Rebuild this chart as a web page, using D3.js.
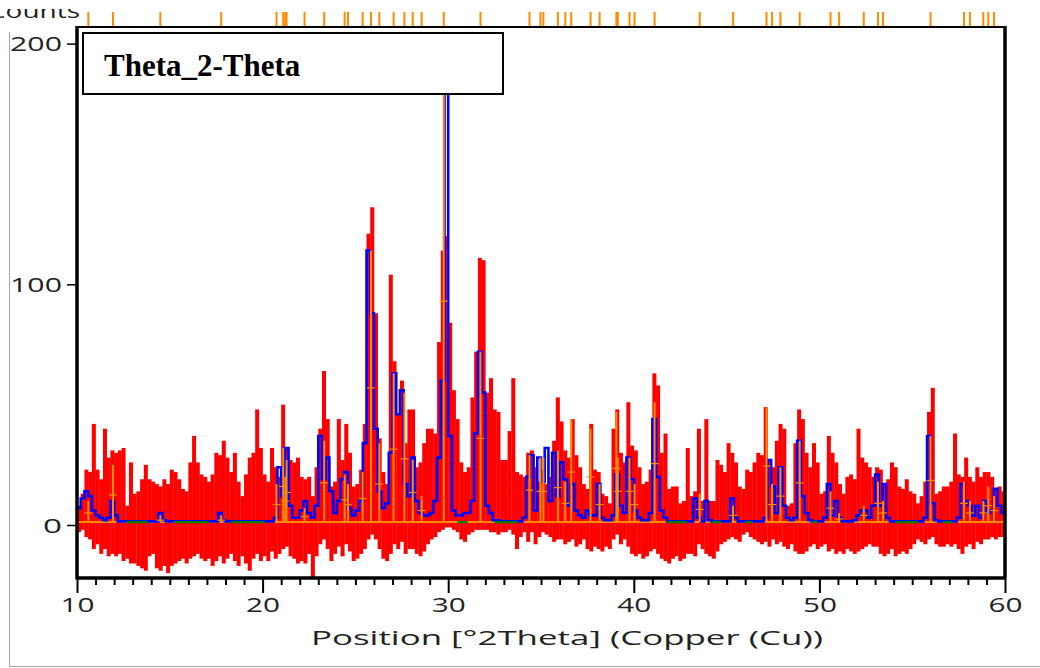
<!DOCTYPE html>
<html>
<head>
<meta charset="utf-8">
<script src="https://cdn.jsdelivr.net/npm/d3@7"></script>
<style>
  html, body { margin: 0; padding: 0; background: #fff; }
  svg { display: block; }
</style>
</head>
<body>
<svg id="chart" width="1040" height="668"></svg>
<script>
// Diffraction scan, Cu K-alpha, 10-60 deg 2Theta, binned at 0.2 deg.
const binStart = 10, binStep = 0.2;

// Upper and lower envelope of the measured counts in each bin (five bins per degree)
const obsHigh = [
  8, 13, 23, 22, 42,   23, 19, 40, 28, 31,   30, 31, 32, 8, 26,    13, 14, 19, 25, 19,
  18, 17, 16, 19, 17,  23, 22, 19, 15, 14,   26, 37, 26, 21, 20,   18, 21, 30, 29, 35,
  28, 22, 30, 18, 12,  21, 28, 30, 48, 32,   21, 18, 32, 24, 20,   50, 32, 27, 26, 28,
  20, 19, 20, 12, 24,  40, 64, 44, 16, 18,   44, 27, 42, 30, 16,   17, 23, 42, 121, 132,
  88, 36, 22, 17, 104, 68, 46, 60, 34, 48,   48, 24, 26, 34, 40,   40, 38, 76, 114, 120,
  84, 56, 44, 26, 22,  24, 53, 72, 111, 110, 55, 61, 48, 47, 27,   27, 39, 61, 22, 21,
  20, 30, 31, 24, 18,  23, 17, 20, 35, 53,   43, 31, 28, 44, 29,   24, 17, 15, 42, 23,
  22, 13, 12, 9, 40,   48, 30, 26, 51, 33,   31, 24, 17, 18, 23,   63, 58, 30, 38, 15,
  16, 16, 9, 10, 32,   12, 14, 40, 10, 44,   10, 10, 27, 25, 22,   34, 30, 26, 16, 15,
  23, 22, 26, 30, 29,  49, 27, 24, 35, 42,   40, 8, 9, 34, 48,     44, 30, 24, 34, 26,
  13, 14, 37, 30, 26,  17, 13, 20, 21, 19,   40, 28, 26, 24, 20,   24, 23, 17, 19, 26,
  24, 16, 15, 19, 14,  13, 9, 12, 18, 47,    57, 13, 14, 16, 16,   18, 38, 21, 20, 28,
  20, 18, 24, 20, 22,  22, 20, 15, 16, 14
];
const obsLow = [
  -3, -2, -5, -6, -10,     -8, -12, -10, -13, -12,  -13, -12, -15, -14, -16,  -16, -17, -18, -19, -13,
  -12, -18, -19, -17, -20, -17, -16, -15, -14, -16, -14, -13, -12, -14, -15,  -14, -17, -15, -13, -16,
  -14, -12, -15, -17, -13, -16, -19, -14, -12, -15, -13, -15, -11, -14, -12,  -10, -9, -13, -14, -16,
  -15, -16, -12, -22, -13, -8, -6, -10, -15, -12,   -9, -13, -8, -11, -15,    -14, -12, -10, -6, -4,
  -6, -10, -14, -15, -12,  -8, -10, -7, -12, -10,   -10, -12, -13, -11, -8,   -6, -5, -3, -2, -1,
  -1, -2, -3, -6, -7,      -4, -3, -2, -2, -2,      -2, -3, -3, -4, -3,       -3, -2, -4, -10, -5,
  -3, -7, -3, -8, -5,      -3, -4, -5, -7, -6,      -6, -8, -7, -6, -9,       -8, -6, -10, -11, -9,
  -10, -11, -9, -10, -6,   -4, -8, -6, -9, -12,     -13, -12, -14, -13, -11,  -10, -12, -14, -15, -16,
  -14, -13, -15, -14, -12, -12, -13, -8, -10, -12,  -13, -14, -11, -8, -7,    -6, -5, -6, -7, -4,
  -3, -5, -6, -7, -8,      -7, -9, -6, -8, -7,      -9, -10, -8, -11, -12,    -12, -11, -9, -8, -10,
  -9, -8, -11, -10, -12,   -11, -12, -10, -11, -12, -11, -10, -9, -8, -9,    -9, -12, -13, -12, -10,
  -13, -12, -11, -12, -10, -8, -6, -7, -8, -6,      -5, -8, -9, -9, -8,       -9, -8, -10, -12, -9,
  -8, -10, -7, -8, -6,     -6, -5, -6, -5, -5
];

// Calculated profile in the same bins
const calcProfile = [
  7, 11, 14, 12, 6,       4, 3, 2, 3, 10,          4, 1.5, 1.5, 1.5, 1.5,    1.5, 1.5, 1.5, 1.5, 1.5,
  1.5, 1.5, 5, 2, 1.5,    1.5, 1.5, 1.5, 1.5, 1.5, 1.5, 1.5, 1.5, 1.5, 1.5,  1.5, 1.5, 1.5, 5, 2,
  1.5, 1.5, 1.5, 1.5, 1.5, 1.5, 1.5, 1.5, 1.5, 1.5, 1.5, 1.5, 1.5, 3, 24,   12, 32, 8, 3, 3,
  6, 10, 5, 3, 8,         37, 19, 28, 14, 5,       10, 19, 22, 7, 4,         6, 10, 34, 114, 88,
  40, 14, 7, 9, 30,       63, 46, 56, 17, 12,      28, 10, 5, 4, 4,          5, 10, 28, 60, 190,
  37, 6, 4, 4, 5,         5, 10, 38, 72, 55,       8, 5, 2, 2, 1.5,          1.5, 1.5, 1.5, 1.5, 1.5,
  3, 20, 29, 6, 28,       18, 32, 10, 30, 12,      26, 19, 8, 17, 6,         4, 3, 6, 4, 4,
  17, 3, 2, 2, 4,         21, 8, 5, 28, 19,        6, 3, 2, 2, 5,            44, 20, 6, 3, 1.5,
  1.5, 1.5, 1.5, 1.5, 1.5, 1.5, 11, 3, 1.5, 10,    2, 1.5, 1.5, 1.5, 1.5,    1.5, 11, 3, 1.5, 1.5,
  1.5, 1.5, 1.5, 1.5, 1.5, 3, 27, 16, 5, 24,       8, 3, 2, 3, 35,           12, 5, 2, 1.5, 1.5,
  1.5, 3, 17, 4, 10,      3, 1.5, 1.5, 1.5, 2,     4, 6, 6, 3, 8,            21, 8, 17, 3, 1.5,
  1.5, 1.5, 1.5, 1.5, 1.5, 1.5, 1.5, 1.5, 3, 37,   9, 2, 1.5, 1.5, 1.5,      1.5, 1.5, 3, 17, 10,
  8, 4, 8, 3, 10,         5, 6, 15, 8, 5
];

// Reference pattern: line positions (deg 2Theta) and intensities (counts)
const refPos = [
  10.61, 11.94, 14.49, 17.77, 20.75, 21.11, 21.22, 21.29, 22.26, 23.32,
  24.42, 24.60, 25.39, 25.84, 26.29, 27.06, 27.64, 28.09, 28.57, 29.76,
  31.74, 34.38, 34.97, 35.13, 35.91, 36.31, 36.63, 37.67, 38.16, 39.06,
  39.14, 39.77, 40.04, 41.12, 43.55, 45.35, 47.15, 47.45, 47.90, 48.94,
  50.60, 51.06, 52.39, 53.16, 53.43, 55.99, 57.79, 58.11, 58.83, 59.10, 59.41
];
const refHeight = [
  10, 25, 4, 4, 17, 32, 20, 27, 7, 35,
  21, 17, 22, 114, 34, 63, 55, 27, 12, 186,
  72, 29, 28, 28, 31, 18, 44, 40, 17, 47,
  28, 28, 17, 51, 13, 8, 49, 17, 24, 35,
  14, 5, 8, 18, 10, 37, 18, 10, 10, 16, 12
];

// Stretches where only the background is drawn (deg 2Theta)
const backgroundStart = [12.65, 15.2, 18.3, 30.5, 32.5, 41.8, 44.2, 46.0, 49.6, 54.1, 56.65];
const backgroundEnd   = [13.8, 17.1, 20.1, 31.05, 33.75, 42.85, 44.7, 46.4, 49.9, 55.3, 57.15];

const xTicksMajor = [10, 20, 30, 40, 50, 60];
const yTicks = [0, 100, 200];
const xTitle = "Position [°2Theta] (Copper (Cu))";
const yTitle = "Counts";
const boxTitle = "Theta_2-Theta";
const baseLevel = 1.2;

const svg = d3.select("#chart");
const frame = { left: 77, right: 1005, top: 27, bottom: 578 };

const x = d3.scaleLinear().domain([10, 60]).range([frame.left, frame.right]);
const y = d3.scaleLinear().domain([0, 100]).range([525, 284.3]);

const sansFont = "'Open Sans', 'Noto Sans', sans-serif";

// panel border lines
svg.append("line").attr("x1", 9.5).attr("x2", 9.5).attr("y1", 32).attr("y2", 667)
  .attr("stroke", "#a8a8a8").attr("stroke-width", 1);
svg.append("line").attr("x1", 9).attr("x2", 1040).attr("y1", 666.5).attr("y2", 666.5)
  .attr("stroke", "#a8a8a8").attr("stroke-width", 1);

svg.append("clipPath").attr("id", "plotClip")
  .append("rect").attr("x", frame.left).attr("y", frame.top)
  .attr("width", frame.right - frame.left).attr("height", frame.bottom - frame.top);

const plot = svg.append("g").attr("clip-path", "url(#plotClip)");

const bins = obsHigh.map((h, i) => ({
  start: binStart + i * binStep,
  hi: h,
  lo: obsLow[i],
  calc: calcProfile[i]
}));

// measured counts
plot.append("g").selectAll("rect").data(bins).join("rect")
  .attr("x", d => x(d.start))
  .attr("width", d => x(d.start + binStep) - x(d.start) + 0.3)
  .attr("y", d => y(d.hi))
  .attr("height", d => y(d.lo) - y(d.hi))
  .attr("fill", "#ff0000");

// reference baseline
plot.append("line")
  .attr("x1", x(10)).attr("x2", x(60))
  .attr("y1", y(baseLevel)).attr("y2", y(baseLevel))
  .attr("stroke", "#ff8c00").attr("stroke-width", 2);

// calculated profile
const stepPts = bins.map(d => [d.start, d.calc]);
stepPts.push([60, calcProfile[calcProfile.length - 1]]);
plot.append("path")
  .datum(stepPts)
  .attr("fill", "none")
  .attr("stroke", "#0000ff")
  .attr("stroke-width", 2.6)
  .attr("d", d3.line().x(d => x(d[0])).y(d => y(d[1])).curve(d3.curveStepAfter));

// background-only stretches
plot.append("g").selectAll("line").data(backgroundStart).join("line")
  .attr("x1", d => x(d)).attr("x2", (d, i) => x(backgroundEnd[i]))
  .attr("y1", y(baseLevel)).attr("y2", y(baseLevel))
  .attr("stroke", "#008000").attr("stroke-width", 2.4);

// reference sticks with half-height markers
const refs = refPos.map((p, i) => ({ pos: p, h: refHeight[i] }));
plot.append("g").selectAll("line").data(refs).join("line")
  .attr("x1", d => x(d.pos)).attr("x2", d => x(d.pos))
  .attr("y1", y(baseLevel)).attr("y2", d => y(d.h))
  .attr("stroke", "#ff8c00").attr("stroke-width", 2);
plot.append("g").selectAll("line").data(refs).join("line")
  .attr("x1", d => x(d.pos) - 4).attr("x2", d => x(d.pos) + 4)
  .attr("y1", d => y(d.h / 2)).attr("y2", d => y(d.h / 2))
  .attr("stroke", "#ff8c00").attr("stroke-width", 1.2);

// reference positions above the frame
svg.append("g").selectAll("line").data(refPos).join("line")
  .attr("x1", d => x(d)).attr("x2", d => x(d))
  .attr("y1", 12).attr("y2", frame.top)
  .attr("stroke", "#ff8c00").attr("stroke-width", 2);

// frame
svg.append("rect").attr("x", frame.left).attr("y", frame.top)
  .attr("width", frame.right - frame.left).attr("height", frame.bottom - frame.top)
  .attr("fill", "none").attr("stroke", "#000").attr("stroke-width", 2);
svg.append("line").attr("x1", frame.left).attr("x2", frame.left)
  .attr("y1", frame.top - 1).attr("y2", frame.bottom + 1.5)
  .attr("stroke", "#000").attr("stroke-width", 3.5);
svg.append("line").attr("x1", frame.left).attr("x2", frame.right + 1)
  .attr("y1", frame.bottom).attr("y2", frame.bottom)
  .attr("stroke", "#000").attr("stroke-width", 3.5);
svg.append("line").attr("x1", frame.right).attr("x2", frame.right)
  .attr("y1", frame.top - 1).attr("y2", frame.bottom)
  .attr("stroke", "#000").attr("stroke-width", 3.5);

// x axis
const minorTicks = d3.range(11, 60).filter(v => v % 10 !== 0);
const xMinor = svg.append("g").attr("transform", `translate(0,${frame.bottom})`)
  .call(d3.axisBottom(x).tickValues(minorTicks).tickSize(7).tickFormat(""));
xMinor.select(".domain").remove();
xMinor.selectAll("line").attr("stroke", "#000").attr("stroke-width", 2);

const xMajor = svg.append("g").attr("transform", `translate(0,${frame.bottom})`)
  .call(d3.axisBottom(x).tickValues(xTicksMajor).tickSize(15).tickPadding(5).tickFormat(d3.format("d")));
xMajor.select(".domain").remove();
xMajor.selectAll("line").attr("stroke", "#000").attr("stroke-width", 2);
xMajor.selectAll("text")
  .attr("font-family", sansFont).attr("font-size", 20).attr("fill", "#222")
  .attr("textLength", 34).attr("lengthAdjust", "spacingAndGlyphs");

svg.append("text")
  .attr("x", 567).attr("y", 645)
  .attr("text-anchor", "middle")
  .attr("font-family", sansFont).attr("font-size", 20).attr("fill", "#222")
  .attr("textLength", 512).attr("lengthAdjust", "spacingAndGlyphs")
  .text(xTitle);

// y axis
const yAxis = svg.append("g").attr("transform", `translate(${frame.left},0)`)
  .call(d3.axisLeft(y).tickValues(yTicks).tickSize(10).tickPadding(5).tickFormat(d3.format("d")));
yAxis.select(".domain").remove();
yAxis.selectAll("line").attr("stroke", "#000").attr("stroke-width", 1.5);
yAxis.selectAll("text")
  .attr("font-family", sansFont).attr("font-size", 20).attr("fill", "#222")
  .attr("dy", "0.35em")
  .attr("textLength", d => d === 0 ? 19 : 52).attr("lengthAdjust", "spacingAndGlyphs");

svg.append("clipPath").attr("id", "titleClip")
  .append("rect").attr("x", 0).attr("y", 9).attr("width", 90).attr("height", 20);
svg.append("text")
  .attr("clip-path", "url(#titleClip)")
  .attr("x", 80).attr("y", 18)
  .attr("text-anchor", "end")
  .attr("font-family", sansFont).attr("font-size", 20).attr("fill", "#222")
  .attr("textLength", 92).attr("lengthAdjust", "spacingAndGlyphs")
  .text(yTitle);

// scan title box
svg.append("rect").attr("x", 83).attr("y", 33).attr("width", 420).attr("height", 61)
  .attr("fill", "#fff").attr("stroke", "#000").attr("stroke-width", 2);
svg.append("text")
  .attr("x", 104).attr("y", 76)
  .attr("font-family", "'Liberation Serif', 'Times New Roman', serif")
  .attr("font-weight", "bold").attr("font-size", 31).attr("fill", "#000")
  .text(boxTitle);
</script>
</body>
</html>
